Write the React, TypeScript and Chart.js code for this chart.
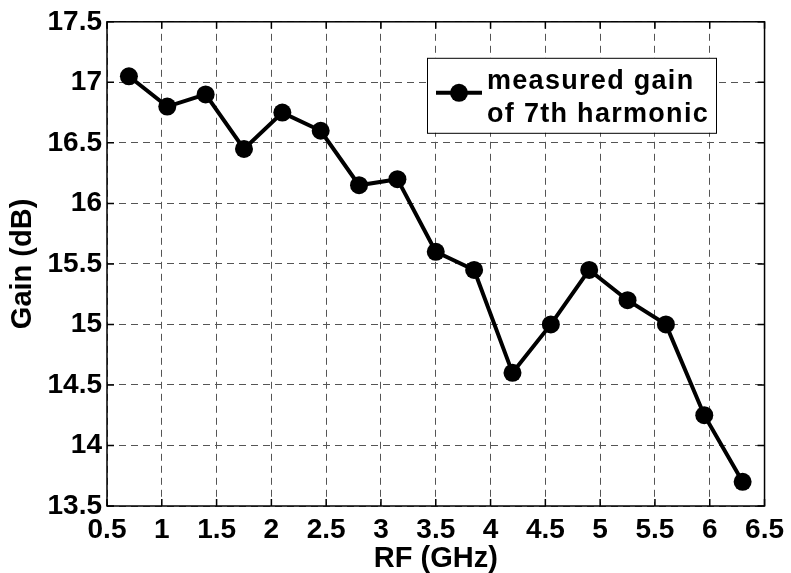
import React, { useEffect, useRef } from "react";
import { Chart, registerables } from "chart.js";

Chart.register(...registerables);

const rfGHz = [0.7, 1.05, 1.4, 1.75, 2.1, 2.45, 2.8, 3.15, 3.5, 3.85, 4.2, 4.55, 4.9, 5.25, 5.6, 5.95, 6.3];
const gainDb = [17.05, 16.8, 16.9, 16.45, 16.75, 16.6, 16.15, 16.2, 15.6, 15.45, 14.6, 15.0, 15.45, 15.2, 15.0, 14.25, 13.7];
const legendLines = ["measured gain", "of 7th harmonic"];
const xTitle = "RF (GHz)";
const yTitle = "Gain (dB)";

const FONT = "'Liberation Sans', Arial, Helvetica, sans-serif";

const framePlugin = {
  id: "frame",
  afterDraw(chart: any) {
    const { ctx, chartArea: a, scales } = chart;
    ctx.save();
    ctx.strokeStyle = "#000";
    ctx.lineWidth = 1.5;
    ctx.setLineDash([]);
    const tl = 7;
    ctx.beginPath();
    scales.x.ticks.forEach((t: any) => {
      const px = scales.x.getPixelForValue(t.value);
      ctx.moveTo(px, a.bottom);
      ctx.lineTo(px, a.bottom - tl);
      ctx.moveTo(px, a.top);
      ctx.lineTo(px, a.top + tl);
    });
    scales.y.ticks.forEach((t: any) => {
      const py = scales.y.getPixelForValue(t.value);
      ctx.moveTo(a.left, py);
      ctx.lineTo(a.left + tl, py);
      ctx.moveTo(a.right, py);
      ctx.lineTo(a.right - tl, py);
    });
    ctx.stroke();
    ctx.strokeRect(a.left, a.top, a.right - a.left, a.bottom - a.top);
    ctx.restore();
  },
};

const legendPlugin = {
  id: "innerLegend",
  afterDraw(chart: any) {
    const { ctx, chartArea: a } = chart;
    const bx = a.left + 320;
    const by = a.top + 36;
    const bw = 289;
    const bh = 75;
    ctx.save();
    ctx.setLineDash([]);
    ctx.fillStyle = "#fff";
    ctx.fillRect(bx, by, bw, bh);
    ctx.strokeStyle = "#000";
    ctx.lineWidth = 1;
    ctx.strokeRect(bx + 0.5, by + 0.5, bw, bh);
    const ly = by + 35;
    ctx.lineWidth = 4;
    ctx.beginPath();
    ctx.moveTo(bx + 9, ly);
    ctx.lineTo(bx + 55, ly);
    ctx.stroke();
    ctx.fillStyle = "#000";
    ctx.beginPath();
    ctx.arc(bx + 32, ly, 9, 0, Math.PI * 2);
    ctx.fill();
    ctx.font = `bold 27px ${FONT}`;
    (ctx as any).letterSpacing = "1.3px";
    ctx.textAlign = "left";
    ctx.textBaseline = "alphabetic";
    ctx.fillText(legendLines[0], bx + 60, by + 31);
    ctx.fillText(legendLines[1], bx + 60, by + 64);
    ctx.restore();
  },
};

export default function App() {
  const ref = useRef<HTMLCanvasElement>(null);
  useEffect(() => {
    if (!ref.current) return;
    const tickFont = { family: FONT, size: 28, weight: "bold" as const };
    const titleFont = { family: FONT, size: 29, weight: "bold" as const, lineHeight: 1 };
    const chart = new Chart(ref.current, {
      type: "line",
      data: {
        datasets: [
          {
            label: legendLines.join(" "),
            data: rfGHz.map((x, i) => ({ x, y: gainDb[i] })),
            borderColor: "#000",
            backgroundColor: "#000",
            borderWidth: 4,
            pointRadius: 9,
            pointBackgroundColor: "#000",
            pointBorderWidth: 0,
            tension: 0,
          },
        ],
      },
      options: {
        animation: false,
        responsive: false,
        layout: { padding: { top: 21, right: 23, left: 0, bottom: 0 } },
        plugins: { legend: { display: false }, tooltip: { enabled: false } },
        scales: {
          x: {
            type: "linear",
            min: 0.5,
            max: 6.5,
            afterFit: (s: any) => {
              s.height = 67;
            },
            ticks: {
              stepSize: 0.5,
              autoSkip: false,
              maxRotation: 0,
              color: "#000",
              font: tickFont,
              padding: 7,
              callback: (v: any) => `${v}`,
            },
            grid: { color: "#555", lineWidth: 1, drawTicks: false },
            border: { display: false, dash: [7, 5] },
            title: {
              display: true,
              text: xTitle,
              color: "#000",
              font: titleFont,
              padding: { top: 0, bottom: 0 },
            },
          },
          y: {
            type: "linear",
            min: 13.5,
            max: 17.5,
            afterFit: (s: any) => {
              s.width = 107;
            },
            ticks: {
              stepSize: 0.5,
              autoSkip: false,
              color: "#000",
              font: tickFont,
              padding: 5,
              callback: (v: any) => `${v}`,
            },
            grid: { color: "#555", lineWidth: 1, drawTicks: false },
            border: { display: false, dash: [7, 5] },
            title: {
              display: true,
              text: yTitle,
              color: "#000",
              font: titleFont,
              padding: { top: 8, bottom: 0 },
            },
          },
        },
      } as any,
      plugins: [framePlugin, legendPlugin],
    });
    return () => chart.destroy();
  }, []);
  return (
    <div style={{ position: "absolute", left: 0, top: 0, width: 791, height: 573, background: "#fff" }}>
      <canvas ref={ref} width={791} height={573} style={{ display: "block" }} />
    </div>
  );
}
